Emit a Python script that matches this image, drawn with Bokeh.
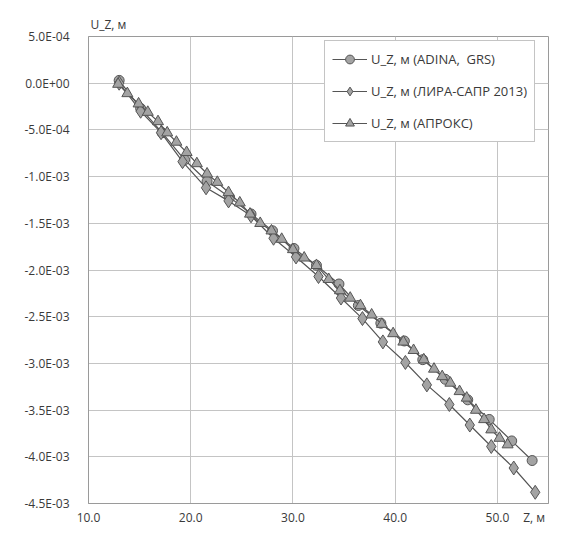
from bokeh.plotting import figure
from bokeh.models import (Range1d, CustomJSTickFormatter, FixedTicker, Legend, LegendItem)
from bokeh.embed import file_html
from bokeh.resources import INLINE

# ---- data ----
adina_z = [13.0, 15.1, 17.2, 19.4, 21.6, 23.8, 25.9, 28.0, 30.1, 32.3,
           34.5, 36.4, 38.6, 40.9, 42.7, 44.9, 47.1, 49.2, 51.4, 53.4]
adina_u = [0.03e-3, -0.27e-3, -0.53e-3, -0.82e-3, -1.05e-3, -1.22e-3, -1.40e-3, -1.58e-3, -1.77e-3, -1.95e-3,
           -2.15e-3, -2.38e-3, -2.57e-3, -2.76e-3, -2.96e-3, -3.17e-3, -3.39e-3, -3.60e-3, -3.83e-3, -4.04e-3]

lira_z = [13.0, 15.1, 17.1, 19.2, 21.5, 23.7, 25.9, 28.1, 30.3, 32.5,
          34.7, 36.8, 38.8, 41.0, 43.1, 45.3, 47.3, 49.4, 51.6, 53.7]
lira_u = [0.0, -0.30e-3, -0.53e-3, -0.84e-3, -1.12e-3, -1.26e-3, -1.42e-3, -1.66e-3, -1.86e-3, -2.07e-3,
          -2.30e-3, -2.52e-3, -2.77e-3, -2.99e-3, -3.23e-3, -3.44e-3, -3.66e-3, -3.89e-3, -4.12e-3, -4.38e-3]

aproks_z = [12.9, 13.8, 14.9, 15.8, 16.8, 17.7, 18.6, 19.6, 20.6, 21.6,
            22.6, 23.7, 24.8, 25.8, 26.8, 27.9, 28.9, 30.0, 31.1, 32.3,
            33.5, 34.6, 35.6, 36.6, 37.7, 38.7, 39.8, 40.8, 41.8, 42.8,
            43.8, 44.6, 45.4, 46.3, 47.0, 47.9, 48.7, 49.4, 50.2, 51.0]
aproks_u = [-0.01e-3, -0.11e-3, -0.22e-3, -0.31e-3, -0.41e-3, -0.53e-3, -0.63e-3, -0.74e-3, -0.86e-3, -0.97e-3,
            -1.06e-3, -1.17e-3, -1.28e-3, -1.40e-3, -1.50e-3, -1.58e-3, -1.67e-3, -1.78e-3, -1.87e-3, -1.95e-3,
            -2.10e-3, -2.22e-3, -2.30e-3, -2.38e-3, -2.48e-3, -2.58e-3, -2.68e-3, -2.77e-3, -2.86e-3, -2.96e-3,
            -3.06e-3, -3.14e-3, -3.21e-3, -3.30e-3, -3.37e-3, -3.50e-3, -3.60e-3, -3.71e-3, -3.80e-3, -3.87e-3]

series_names = ["U_Z, м (ADINA,  GRS)", "U_Z, м (ЛИРА-САПР 2013)", "U_Z, м (АПРОКС)"]
x_ticks = [10, 20, 30, 40, 50]
y_ticks = [5e-4, 0.0, -5e-4, -1e-3, -1.5e-3, -2e-3, -2.5e-3, -3e-3, -3.5e-3, -4e-3, -4.5e-3]
x_title = "Z, м"
y_title = "U_Z, м"
x_title_at = 53.6   # where the x title sits along the tick-label row

FONT = "Open Sans"
TXT = "#3a3a3a"
LINE = "#555555"
FILL = "#a3a3a3"

p = figure(width=551, height=528, output_backend="svg", toolbar_location=None,
           x_range=Range1d(10, 55), y_range=Range1d(-4.5e-3, 5e-4),
           min_border_left=88, min_border_right=3, min_border_top=36, min_border_bottom=22)
p.background_fill_color = "white"
p.border_fill_color = "white"
p.outline_line_color = "#9a9a9a"

p.title.text = y_title
p.title.align = "left"
p.title.offset = 2
p.title.text_font = FONT
p.title.text_font_size = "12px"
p.title.text_font_style = "normal"
p.title.text_color = TXT
p.title.standoff = 8

p.xaxis.ticker = FixedTicker(ticks=x_ticks + [x_title_at])
p.xgrid.ticker = FixedTicker(ticks=x_ticks)
p.xaxis.formatter = CustomJSTickFormatter(args=dict(t=x_title, at=x_title_at), code="""
if (Math.abs(tick - at) < 1e-6) { return t; }
return tick.toFixed(1);
""")
p.yaxis.ticker = FixedTicker(ticks=y_ticks)
p.yaxis.formatter = CustomJSTickFormatter(code="""
const s = tick.toExponential(1);
const parts = s.split('e');
let e = parseInt(parts[1]);
const sign = e < 0 ? '-' : '+';
e = Math.abs(e);
return parts[0] + 'E' + sign + (e < 10 ? '0' + e : '' + e);
""")
for ax in (p.xaxis, p.yaxis):
    ax.major_tick_line_color = None
    ax.minor_tick_line_color = None
    ax.axis_line_color = "#9a9a9a"
    ax.major_label_text_font = FONT
    ax.major_label_text_font_size = "12px"
    ax.major_label_text_color = TXT
p.xaxis.major_tick_out = 0
p.xaxis.minor_tick_out = 0
p.xaxis.axis_label_standoff = 0
p.xaxis.major_label_standoff = 5
p.yaxis.major_label_standoff = 13

p.xgrid.grid_line_color = "#c4c4c4"
p.ygrid.grid_line_color = "#c4c4c4"

r1l = p.line(adina_z, adina_u, line_color=LINE, line_width=1.2)
r1m = p.scatter(adina_z, adina_u, marker="circle", size=10, fill_color=FILL, line_color=LINE, line_width=1)
r2l = p.line(lira_z, lira_u, line_color=LINE, line_width=1.2)
r2m = p.scatter(lira_z, lira_u, marker="diamond", size=14, fill_color=FILL, line_color=LINE, line_width=1)
r3l = p.line(aproks_z, aproks_u, line_color=LINE, line_width=1.2)
r3m = p.scatter(aproks_z, aproks_u, marker="triangle", size=11, fill_color=FILL, line_color=LINE, line_width=1)

legend = Legend(items=[
    LegendItem(label=series_names[0], renderers=[r1l, r1m]),
    LegendItem(label=series_names[1], renderers=[r2l, r2m]),
    LegendItem(label=series_names[2], renderers=[r3l, r3m]),
], location=(236, 361))
legend.label_text_font = FONT
legend.label_text_font_size = "13px"
legend.label_text_color = TXT
legend.glyph_width = 35
legend.glyph_height = 22
legend.label_height = 22
legend.spacing = 10
legend.padding = 7
legend.margin = 0
legend.label_standoff = 4
legend.border_line_color = "#8a8a8a"
legend.background_fill_color = "white"
legend.background_fill_alpha = 1.0
p.add_layout(legend)

open("out.html", "w").write(file_html(p, INLINE))
